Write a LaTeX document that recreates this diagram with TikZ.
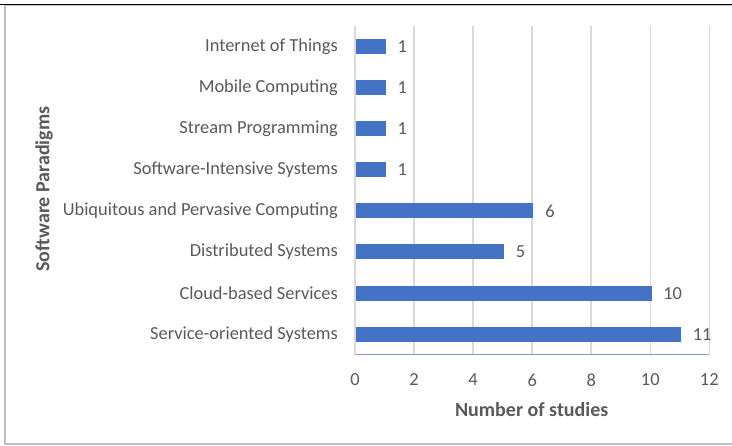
\documentclass[tikz,border=0pt]{standalone}
\usepackage{fontspec}
\setmainfont{Carlito}
\usetikzlibrary{positioning}
\definecolor{barblue}{HTML}{4472C4}
\definecolor{axisblue}{HTML}{7F9BD6}
\definecolor{gridgray}{HTML}{D9D9D9}
\definecolor{textgray}{HTML}{595959}
\definecolor{framegray}{HTML}{BFBFBF}

\begin{document}
\begin{tikzpicture}[x=1pt, y=-1pt, node distance=10.5pt,
        bar/.style={fill=barblue, draw=none, anchor=west, minimum height=15pt, inner sep=0pt},
        valnode/.style={text=textgray, font=\fontsize{18.4}{20}\selectfont, inner sep=1pt},
        catnode/.style={text=textgray, font=\fontsize{18.4}{20}\selectfont, inner sep=1pt, anchor=east},
        ticknode/.style={text=textgray, font=\fontsize{18.4}{20}\selectfont, inner sep=1pt},
        titlenode/.style={text=textgray, font=\bfseries\fontsize{20}{22}\selectfont, inner sep=1pt},
        gridline/.style={draw=gridgray, line width=1.5pt}]
        \useasboundingbox (0,0) rectangle (732,446);

        % Frame
        \draw[framegray, line width=1.5pt] (5,5) rectangle (745,444);
        \draw[black, line width=1.5pt] (0,4.5) -- (732,4.5);

        % Gridlines
        \draw[gridline] (355,26.5) -- (355,354.5);
        \draw[gridline] (414.1,26.5) -- (414.1,354.5);
        \draw[gridline] (473.1,26.5) -- (473.1,354.5);
        \draw[gridline] (532.2,26.5) -- (532.2,354.5);
        \draw[gridline] (591.2,26.5) -- (591.2,354.5);
        \draw[gridline] (650.3,26.5) -- (650.3,354.5);
        \draw[gridline] (709.3,26.5) -- (709.3,354.5);

        % Axis
        \coordinate (Origin) at (355,354.5);
        \coordinate (AxisEnd) at (709.3,354.5);
        \draw[axisblue, line width=1.5pt] (Origin) -- (AxisEnd);

        % Bars
        \node[bar, minimum width=29.53pt] (IoTBar) at (356,46.5) {};
        \node[bar, minimum width=29.53pt] (MobileBar) at (356,87.6) {};
        \node[bar, minimum width=29.53pt] (StreamBar) at (356,128.7) {};
        \node[bar, minimum width=29.53pt] (IntensiveBar) at (356,169.8) {};
        \node[bar, minimum width=177.2pt] (UbiquitousBar) at (356,210.9) {};
        \node[bar, minimum width=147.7pt] (DistributedBar) at (356,252) {};
        \node[bar, minimum width=295.3pt] (CloudBar) at (356,293.1) {};
        \node[bar, minimum width=324.8pt] (ServiceBar) at (356,334.2) {};

        % Values
        \node[valnode, right=of IoTBar] (IoTVal) {1};
        \node[valnode, right=of MobileBar] (MobileVal) {1};
        \node[valnode, right=of StreamBar] (StreamVal) {1};
        \node[valnode, right=of IntensiveBar] (IntensiveVal) {1};
        \node[valnode, right=of UbiquitousBar] (UbiquitousVal) {6};
        \node[valnode, right=of DistributedBar] (DistributedVal) {5};
        \node[valnode, right=of CloudBar] (CloudVal) {10};
        \node[valnode, right=of ServiceBar] (ServiceVal) {11};

        % Categories
        \node[catnode, left=17pt of IoTBar.west] (IoTLabel) {Internet of Things};
        \node[catnode, left=17pt of MobileBar.west] (MobileLabel) {Mobile Computing};
        \node[catnode, left=17pt of StreamBar.west] (StreamLabel) {Stream Programming};
        \node[catnode, left=17pt of IntensiveBar.west] (IntensiveLabel) {Software-Intensive Systems};
        \node[catnode, left=17pt of UbiquitousBar.west] (UbiquitousLabel) {Ubiquitous and Pervasive Computing};
        \node[catnode, left=17pt of DistributedBar.west] (DistributedLabel) {Distributed Systems};
        \node[catnode, left=17pt of CloudBar.west] (CloudLabel) {Cloud-based Services};
        \node[catnode, left=17pt of ServiceBar.west] (ServiceLabel) {Service-oriented Systems};

        % Ticks
        \node[ticknode] (TickZero) at (355,380) {0};
        \node[ticknode] (TickTwo) at (414.1,380) {2};
        \node[ticknode] (TickFour) at (473.1,380) {4};
        \node[ticknode] (TickSix) at (532.2,380) {6};
        \node[ticknode] (TickEight) at (591.2,380) {8};
        \node[ticknode] (TickTen) at (650.3,380) {10};
        \node[ticknode] (TickTwelve) at (709.3,380) {12};

        % Titles
        \node[titlenode] (XTitle) at (531.7,410) {Number of studies};
        \node[titlenode, rotate=90] (YTitle) at (44,189) {Software Paradigms};
    \end{tikzpicture}
\end{document}
